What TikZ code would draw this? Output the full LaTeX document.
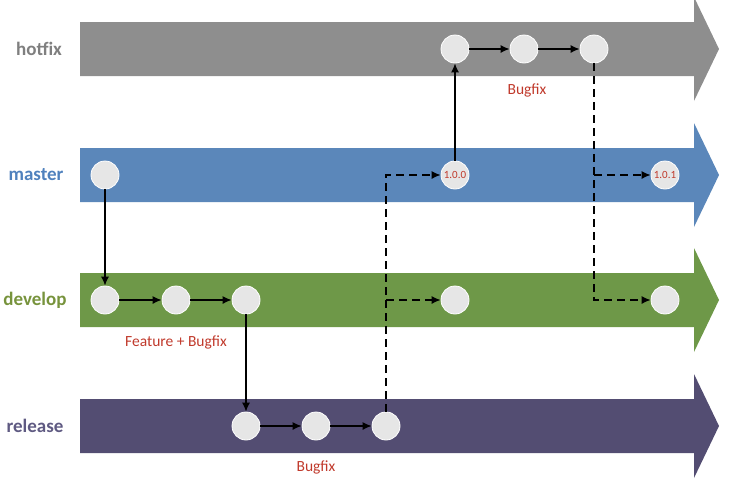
\documentclass[tikz,border=0pt]{standalone}
\usepackage{fontspec}
\setmainfont{Carlito}
\usetikzlibrary{arrows.meta}
\definecolor{barhot}{HTML}{8E8E8E}
\definecolor{barmaster}{HTML}{5B87BA}
\definecolor{bardev}{HTML}{6E9848}
\definecolor{barrel}{HTML}{534D72}
\definecolor{txthot}{HTML}{7F7F7F}
\definecolor{txtmaster}{HTML}{4F81BD}
\definecolor{txtdev}{HTML}{77933C}
\definecolor{txtrel}{HTML}{5F5A82}
\definecolor{cred}{HTML}{C0392B}
\definecolor{cfill}{HTML}{E6E6E6}
\tikzset{
  commit/.style={circle, fill=cfill, draw=white, line width=0.8pt, minimum size=28pt, inner sep=0pt, text=cred, font=\fontsize{11}{12}\selectfont},
  flow/.style={-{Latex[length=9pt,width=8pt]}, line width=1.2pt, black},
  merge/.style={flow, dash pattern=on 8pt off 5pt},
  branchlabel/.style={font=\bfseries\fontsize{19}{21}\selectfont},
  note/.style={text=cred, font=\fontsize{15.5}{17}\selectfont}
}
\newcommand{\lanebar}[2]{%
  \fill[#2] (80,#1-27) -- (694,#1-27) -- (694,#1-52) -- (719,#1) -- (694,#1+52) -- (694,#1+27) -- (80,#1+27) -- cycle;}
\begin{document}
\begin{tikzpicture}[x=1pt,y=-1pt]
\useasboundingbox (0,0) rectangle (731,493);
% lanes
\lanebar{49}{barhot}
\lanebar{175}{barmaster}
\lanebar{300}{bardev}
\lanebar{426}{barrel}
% lane labels
\node[branchlabel, text=txthot] (lhot) at (39,49) {hotfix};
\node[branchlabel, text=txtmaster] (lmaster) at (36,175) {master};
\node[branchlabel, text=txtdev] (ldev) at (35,300) {develop};
\node[branchlabel, text=txtrel] (lrel) at (35,426) {release};
% commits
\node[commit] (h1) at (455,49) {};
\node[commit] (h2) at (524,49) {};
\node[commit] (h3) at (594,49) {};
\node[commit] (m1) at (105,175) {};
\node[commit] (m100) at (455,175) {1.0.0};
\node[commit] (m101) at (665,175) {1.0.1};
\node[commit] (d1) at (105,300) {};
\node[commit] (d2) at (176,300) {};
\node[commit] (d3) at (246,300) {};
\node[commit] (d4) at (455,300) {};
\node[commit] (d5) at (665,300) {};
\node[commit] (r1) at (246,426) {};
\node[commit] (r2) at (316,426) {};
\node[commit] (r3) at (386,426) {};
% notes
\node[note] (n1) at (527,90) {Bugfix};
\node[note] (n2) at (176,342) {Feature + Bugfix};
\node[note] (n3) at (316,467) {Bugfix};
% solid connectors
\draw[flow] (h1) -- (h2);
\draw[flow] (h2) -- (h3);
\draw[flow] (m100) -- (h1);
\draw[flow] (m1) -- (d1);
\draw[flow] (d1) -- (d2);
\draw[flow] (d2) -- (d3);
\draw[flow] (d3) -- (r1);
\draw[flow] (r1) -- (r2);
\draw[flow] (r2) -- (r3);
% dashed merges
\coordinate (rk) at (r3 |- d4);
\coordinate (hk) at (h3 |- m101);
\draw[merge] (r3.north) |- (m100.west);
\draw[merge] (rk) -- (d4.west);
\draw[merge] (h3.south) |- (d5.west);
\draw[merge] (hk) -- (m101.west);
\end{tikzpicture}
\end{document}
